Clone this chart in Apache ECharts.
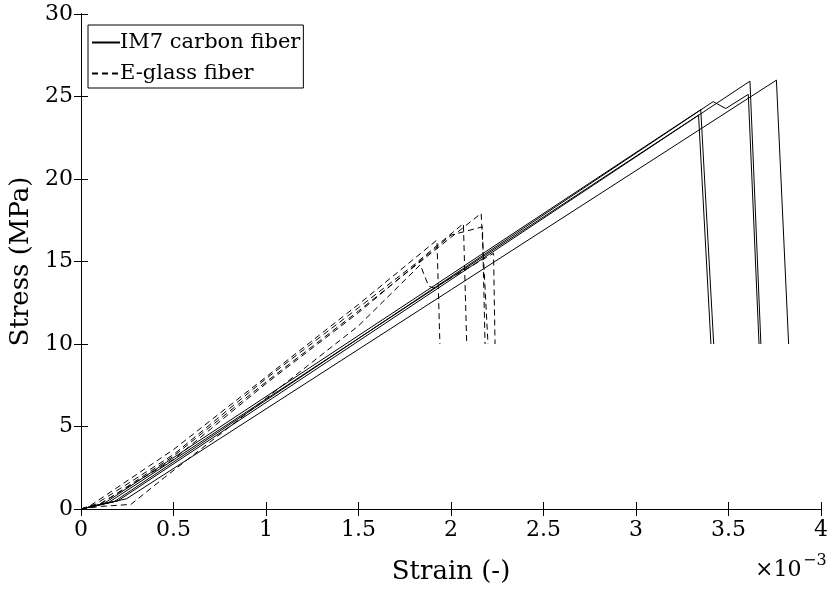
<!DOCTYPE html>
<html><head><meta charset="utf-8">
<script src="https://cdn.jsdelivr.net/npm/echarts@6/dist/echarts.min.js"></script>
<style>html,body{margin:0;padding:0;background:#fff}#c{width:831px;height:590px}</style>
</head><body><div id="c"></div>
<script>
// strain in units of 1e-3, stress in MPa
const carbon1 = [[0,0],[0.15,0.4],[3.338,23.87],[3.405,10]];
const carbon2 = [[0,0],[0.12,0.3],[3.35,24.2],[3.42,10]];
const carbon3 = [[0,0],[0.18,0.45],[3.417,24.69],[3.485,24.27],[3.607,25.13],[3.665,10]];
const carbon4 = [[0,0],[0.2,0.5],[3.616,25.93],[3.675,10]];
const carbon5 = [[0,0],[0.246,0.62],[3.759,25.99],[3.825,10]];
const glass1 = [[0,0],[0.05,0.2],[0.5,3.6],[1.0,8.0],[1.5,12.4],[1.924,16.3],[1.94,10]];
const glass2 = [[0,0],[0.08,0.3],[0.5,3.3],[1.0,7.9],[1.5,12.2],[1.8,14.8],[2.067,17.3],[2.085,10]];
const glass3 = [[0,0],[0.1,0.3],[0.5,3.0],[1.0,7.6],[1.5,11.9],[2.0,16.6],[2.17,17.1],[2.184,10]];
const glass4 = [[0,0],[0.1,0.25],[0.5,3.2],[1.0,7.7],[1.5,12.0],[2.163,17.92],[2.2,10]];
const glass5 = [[0,0],[0.1,0.15],[0.27,0.28],[0.45,1.9],[1.0,6.7],[1.5,11.1],[1.834,14.8],[1.879,13.5],[1.906,13.4],[2.23,15.5],[2.238,10]];
const carbonName = 'IM7 carbon fiber';
const glassName = 'E-glass fiber';
const xRange = [0, 4, 0.5];
const yRange = [0, 30, 5];

const font = 'DejaVu Serif';
const chart = echarts.init(document.getElementById('c'));
const mk = (name, data, dashed) => ({
  type: 'line', name, data, symbol: 'none', showSymbol: false,
  lineStyle: {color: '#000', width: 1, type: dashed ? [6, 4] : 'solid'},
  itemStyle: {color: '#000'}
});
const axisCommon = {
  axisLine: {show: true, lineStyle: {color: '#000', width: 1}},
  axisTick: {show: true, inside: true, length: 7, lineStyle: {color: '#000'}},
  splitLine: {show: false}
};
chart.setOption({
  animation: false,
  backgroundColor: '#fff',
  grid: {left: 81, right: 7, top: 14, bottom: 77},
  legend: {
    left: 88, top: 25, orient: 'vertical',
    data: [carbonName, glassName],
    itemWidth: 28, itemHeight: 12, itemGap: 10,
    itemStyle: {opacity: 0, borderWidth: 0},
    borderColor: '#000', borderWidth: 1, padding: [7, 3, 4, 3],
    textStyle: {fontFamily: font, fontSize: 21, color: '#000', padding: [0, 0, 0, -5]}
  },
  xAxis: [
    Object.assign({type: 'value', min: xRange[0], max: xRange[1], interval: xRange[2],
      axisLabel: {color: '#000', fontFamily: font, fontSize: 22, margin: 10},
      name: 'Strain (-)', nameLocation: 'middle', nameGap: 50,
      nameTextStyle: {color: '#000', fontFamily: font, fontSize: 26}}, axisCommon),
    Object.assign({type: 'value', position: 'top', min: xRange[0], max: xRange[1], interval: xRange[2],
      axisLabel: {show: false}}, axisCommon)
  ],
  yAxis: [
    Object.assign({type: 'value', min: yRange[0], max: yRange[1], interval: yRange[2],
      axisLabel: {color: '#000', fontFamily: font, fontSize: 22, margin: 8},
      name: 'Stress (MPa)', nameLocation: 'middle', nameGap: 46,
      nameTextStyle: {color: '#000', fontFamily: font, fontSize: 26}}, axisCommon),
    Object.assign({type: 'value', position: 'right', min: yRange[0], max: yRange[1], interval: yRange[2],
      axisLabel: {show: false}}, axisCommon)
  ],
  graphic: [
    {type: 'text', left: 755, top: 559, style: {text: '×10', font: '22px "DejaVu Serif"', fill: '#000'}},
    {type: 'text', left: 803, top: 553, style: {text: '−3', font: '16px "DejaVu Serif"', fill: '#000'}}
  ],
  series: [
    mk(carbonName, carbon1, false), mk(carbonName, carbon2, false), mk(carbonName, carbon3, false),
    mk(carbonName, carbon4, false), mk(carbonName, carbon5, false),
    mk(glassName, glass1, true), mk(glassName, glass2, true), mk(glassName, glass3, true),
    mk(glassName, glass4, true), mk(glassName, glass5, true)
  ]
});
</script></body></html>
